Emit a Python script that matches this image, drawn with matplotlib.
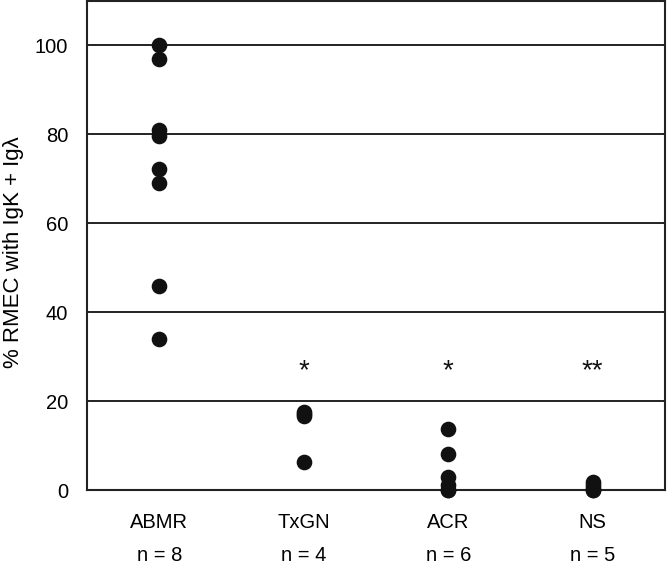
import matplotlib
matplotlib.use("Agg")
import matplotlib.pyplot as plt

plt.rcParams['font.family'] = ['Liberation Sans', 'DejaVu Sans']

categories = ["ABMR", "TxGN", "ACR", "NS"]
n_labels = ["n = 8", "n = 4", "n = 6", "n = 5"]
abmr = [100, 97, 81, 79.6, 72.1, 69, 45.8, 33.9]
txgn = [17.6, 17.0, 16.6, 6.3]
acr = [13.7, 8.1, 3.0, 1.2, 0, 0]
ns = [1.8, 1.2, 0.5, 0, 0]
series = [abmr, txgn, acr, ns]
sig_marks = ["", "*", "*", "**"]
sig_y = 26.8
yticks = [0, 20, 40, 60, 80, 100]

fig = plt.figure(figsize=(6.67, 5.71), dpi=100)
ax = fig.add_axes([87/667, 81/571, 578/667, 489/571])

for i, vals in enumerate(series):
    ax.scatter([i + 1] * len(vals), vals, s=105, color='#111111', zorder=3, clip_on=False)
    if sig_marks[i]:
        ax.text(i + 1, sig_y, sig_marks[i], ha='center', va='center', fontsize=20, color='#111111')

for y in yticks[1:]:
    ax.axhline(y, color='#222222', lw=1.4, zorder=1)

ax.set_xlim(0.5, 4.5)
ax.set_ylim(0, 110)
ax.set_yticks(yticks)
ax.tick_params(axis='y', length=0, pad=13.5, labelsize=14.5)
ax.set_xticks([])
for sp in ax.spines.values():
    sp.set_linewidth(1.5)
    sp.set_color('#222222')

for i, (c, n) in enumerate(zip(categories, n_labels)):
    ax.text(i + 1, -7.3, c, ha='center', va='center', fontsize=14.5)
    ax.text(i + 1, -14.8, n, ha='center', va='center', fontsize=14.5)

ax.set_ylabel("% RMEC with IgΚ + Igλ", fontsize=16)
ax.yaxis.set_label_coords(-0.109, 0.487)

fig.savefig("out.png", dpi=100)
